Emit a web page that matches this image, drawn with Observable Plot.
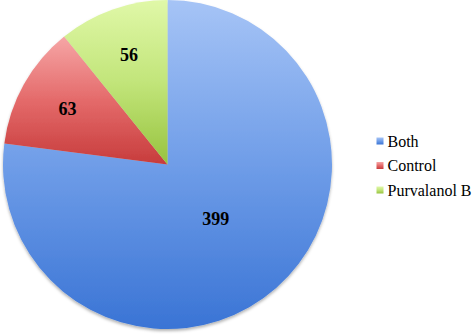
<!DOCTYPE html>
<html>
<head>
<meta charset="utf-8">
<script src="https://cdn.jsdelivr.net/npm/d3@7"></script>
<script src="https://cdn.jsdelivr.net/npm/@observablehq/plot@0.6"></script>
<style>
  html, body { margin: 0; padding: 0; background: #fff; }
  #chart { width: 472px; height: 335px; }
</style>
</head>
<body>
<div id="chart"></div>
<script>
// ---- data ----
const categories = ["Both", "Control", "Purvalanol B"];
const counts = [399, 63, 56];

// ---- style / layout ----
const W = 472, H = 335;
const pieCenter = {x: 167.5, y: 164.5};
const pieRadius = 164.5;
const gradients = [
  ["#a6c4f6", "#6f9de8", "#3a74d5"],
  ["#f6a6a6", "#e46a6a", "#c73c3c"],
  ["#e0f8a8", "#c2e57a", "#97c33f"]
];
const labelFrac = [0.44, 0.70, 0.71];
const legend = {swatchX: 380, textX: 387, y0: 141, step: 24.5, size: 7};
const serif = "Liberation Serif";

const arcs = d3.pie().sort(null).value(d => d)(counts);

const sliceLabels = arcs.map((a, i) => {
  const m = (a.startAngle + a.endAngle) / 2;
  const rr = pieRadius * labelFrac[i];
  return {
    text: String(counts[i]),
    x: pieCenter.x + Math.sin(m) * rr,
    y: pieCenter.y - Math.cos(m) * rr
  };
});

const legendRows = categories.map((c, i) => ({
  name: c, i, y: legend.y0 + i * legend.step
}));

function pieMark(index, scales, values, dimensions, context) {
  const x = scales.x, y = scales.y;
  const doc = (context && context.document) || document;
  const g = d3.select(doc.createElementNS("http://www.w3.org/2000/svg", "g"));
  const defs = g.append("defs");
  gradients.forEach((stops, i) => {
    const lg = defs.append("linearGradient")
      .attr("id", "grad" + i)
      .attr("x1", 0).attr("y1", 0).attr("x2", 0).attr("y2", 1);
    stops.forEach((s, k) => lg.append("stop")
      .attr("offset", k / (stops.length - 1)).attr("stop-color", s));
  });
  const f = defs.append("filter").attr("id", "pieShadow")
    .attr("x", "-10%").attr("y", "-10%").attr("width", "120%").attr("height", "120%");
  f.append("feDropShadow").attr("dx", 0).attr("dy", 2)
    .attr("stdDeviation", 1.8).attr("flood-color", "#000").attr("flood-opacity", 0.3);

  const cx = x(pieCenter.x), cy = y(pieCenter.y);
  const r = x(pieCenter.x + pieRadius) - cx;
  const arcGen = d3.arc().innerRadius(0).outerRadius(r);
  const pg = g.append("g").attr("transform", `translate(${cx},${cy})`)
    .attr("filter", "url(#pieShadow)");
  arcs.forEach((a, i) => {
    pg.append("path").attr("d", arcGen(a)).attr("fill", `url(#grad${i})`);
  });

  legendRows.forEach(row => {
    const s = legend.size;
    g.append("rect")
      .attr("x", x(legend.swatchX) - s / 2)
      .attr("y", y(row.y) - s / 2)
      .attr("width", s).attr("height", s)
      .attr("fill", `url(#grad${row.i})`);
  });
  return g.node();
}

const chart = Plot.plot({
  width: W,
  height: H,
  margin: 0,
  x: {domain: [0, W], range: [0, W], axis: null},
  y: {domain: [0, H], range: [0, H], axis: null},
  style: {background: "#fff"},
  marks: [
    pieMark,
    Plot.text(sliceLabels, {
      x: "x", y: "y", text: "text",
      fontFamily: serif, fontSize: 18, fontWeight: "bold", fill: "#000"
    }),
    Plot.text(legendRows, {
      x: () => legend.textX, y: "y", text: "name",
      textAnchor: "start", fontFamily: serif, fontSize: 16, fill: "#000"
    })
  ]
});
document.getElementById("chart").appendChild(chart);
</script>
</body>
</html>
